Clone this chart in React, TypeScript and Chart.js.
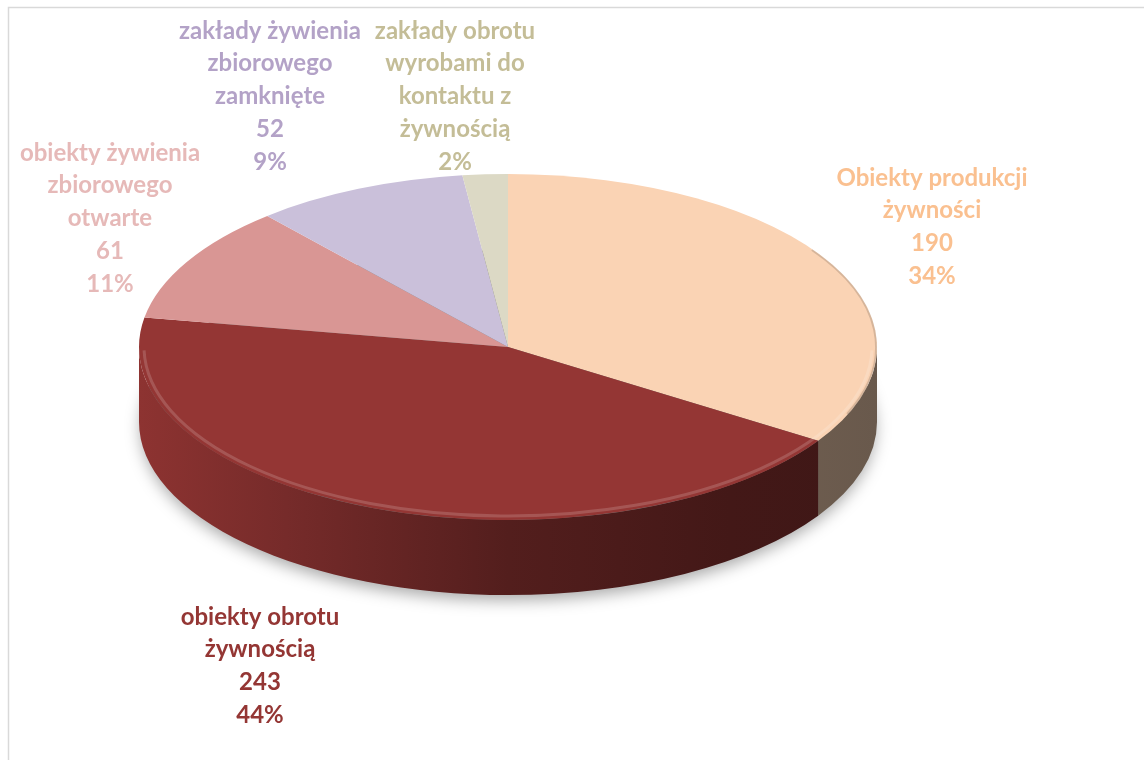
import React, { useEffect, useRef } from "react";
import { Chart, registerables } from "chart.js";

Chart.register(...registerables);

// ---------- data ----------
const categories: string[][] = [
  ["Obiekty produkcji", "żywności"],
  ["obiekty obrotu", "żywnością"],
  ["obiekty żywienia", "zbiorowego", "otwarte"],
  ["zakłady żywienia", "zbiorowego", "zamknięte"],
  ["zakłady obrotu", "wyrobami do", "kontaktu z", "żywnością"],
];
const values: number[] = [190, 243, 61, 52, 11];
// whether the value line is shown in each data label (the smallest one only shows %)
const showValue: boolean[] = [true, true, true, true, false];
const sliceColors: string[] = ["#FAD3B4", "#943634", "#D99694", "#CAC0DA", "#DCD9C5"];
const labelColors: string[] = ["#FAC090", "#943634", "#E6B9B8", "#B3A2C7", "#C4BD97"];

// ---------- layout (not data) ----------
const W = 1144;
const H = 760;
const TARGET_X = 508;
const TARGET_Y = 347;
const TILT = 173 / 369;
const DEPTH = 75;
const FONT = "bold 24px Lato, 'Open Sans', sans-serif";
const LINE_H = 32.7;
// centre x, centre y of first line, per label
const LABEL_POS: [number, number][] = [
  [932, 178],
  [260, 617],
  [110, 153],
  [270, 31],
  [455, 31],
];

function shade(hex: string, f: number): string {
  const n = parseInt(hex.slice(1), 16);
  const r = Math.round(((n >> 16) & 255) * f);
  const g = Math.round(((n >> 8) & 255) * f);
  const b = Math.round((n & 255) * f);
  return `rgb(${r},${g},${b})`;
}

const pie3d = {
  id: "pie3d",
  beforeDraw(chart: any) {
    const ctx = chart.ctx as CanvasRenderingContext2D;
    ctx.save();
    ctx.fillStyle = "#ffffff";
    ctx.fillRect(0, 0, W, H);
    ctx.strokeStyle = "#d9d9d9";
    ctx.lineWidth = 1.5;
    ctx.strokeRect(8.5, 7.5, W + 40, H + 40);
    ctx.restore();
  },
  beforeDatasetsDraw(chart: any) {
    const ctx = chart.ctx as CanvasRenderingContext2D;
    const meta = chart.getDatasetMeta(0);
    const arcs = meta.data as any[];
    if (!arcs.length) return;
    const cx = arcs[0].x;
    const cy = arcs[0].y;
    const R = arcs[0].outerRadius;
    const X = TARGET_X;
    const Y = TARGET_Y;
    const Ry = R * TILT;

    // soft shadow under the disc
    ctx.save();
    ctx.shadowColor = "rgba(0,0,0,0.35)";
    ctx.shadowBlur = 16;
    ctx.shadowOffsetY = 6;
    ctx.beginPath();
    ctx.ellipse(X, Y + DEPTH, R - 2, Ry - 1, 0, 0, Math.PI * 2);
    ctx.fillStyle = "#777";
    ctx.fill();
    ctx.restore();

    // visible side walls
    const TWO = Math.PI * 2;
    arcs.forEach((arc: any, i: number) => {
      const s = arc.startAngle;
      const e = arc.endAngle;
      for (const k of [-1, 0, 1]) {
        const lo = Math.max(s, k * TWO);
        const hi = Math.min(e, k * TWO + Math.PI);
        if (hi <= lo) continue;
        const base = sliceColors[i % sliceColors.length];
        const g = ctx.createLinearGradient(X - R, 0, X + R, 0);
        g.addColorStop(0, shade(base, 0.95));
        g.addColorStop(0.2, shade(base, 0.8));
        g.addColorStop(0.5, shade(base, 0.56));
        g.addColorStop(0.8, shade(base, 0.45));
        g.addColorStop(1, shade(base, 0.42));
        ctx.save();
        ctx.beginPath();
        ctx.ellipse(X, Y, R, Ry, 0, lo, hi, false);
        ctx.lineTo(X + R * Math.cos(hi), Y + DEPTH + Ry * Math.sin(hi));
        ctx.ellipse(X, Y + DEPTH, R, Ry, 0, hi, lo, true);
        ctx.closePath();
        ctx.fillStyle = g;
        ctx.fill();
        ctx.restore();
      }
    });

    // squash the library's own arcs into the tilted top face
    ctx.save();
    ctx.translate(X, Y);
    ctx.scale(1, TILT);
    ctx.translate(-cx, -cy);
  },
  afterDatasetsDraw(chart: any) {
    const ctx = chart.ctx as CanvasRenderingContext2D;
    ctx.restore();
    const meta = chart.getDatasetMeta(0);
    const arcs = meta.data as any[];
    if (!arcs.length) return;
    const R = arcs[0].outerRadius;
    const X = TARGET_X;
    const Y = TARGET_Y;
    const Ry = R * TILT;

    // bevel highlight on the front rim
    ctx.save();
    ctx.beginPath();
    ctx.ellipse(X, Y, R, Ry, 0, 0, Math.PI * 2);
    ctx.clip();
    ctx.beginPath();
    ctx.ellipse(X, Y, R - 5, Ry - 4, 0, 0.02, Math.PI - 0.02);
    ctx.strokeStyle = "rgba(255,255,255,0.16)";
    ctx.lineWidth = 3;
    ctx.stroke();
    ctx.beginPath();
    ctx.ellipse(X, Y, R - 0.5, Ry - 0.5, 0, -0.6, 0.4);
    ctx.strokeStyle = "rgba(0,0,0,0.14)";
    ctx.lineWidth = 3;
    ctx.stroke();
    ctx.restore();

    // data labels
    const total = values.reduce((a, b) => a + b, 0);
    ctx.save();
    ctx.font = FONT;
    ctx.textAlign = "center";
    ctx.textBaseline = "middle";
    categories.forEach((lines, i) => {
      const pct = Math.round((values[i] / total) * 100) + "%";
      const all = showValue[i] ? [...lines, String(values[i]), pct] : [...lines, pct];
      const [lx, ly] = LABEL_POS[i];
      ctx.fillStyle = labelColors[i];
      all.forEach((t, j) => ctx.fillText(t, lx, ly + j * LINE_H));
    });
    ctx.restore();
  },
};

export default function App() {
  const ref = useRef<HTMLCanvasElement | null>(null);
  useEffect(() => {
    document.body.style.margin = "0";
    const canvas = ref.current;
    if (!canvas) return;
    const chart = new Chart(canvas, {
      type: "pie",
      data: {
        labels: categories.map((c) => c.join(" ")),
        datasets: [
          {
            data: values,
            backgroundColor: sliceColors,
            borderWidth: 0,
          },
        ],
      },
      options: {
        responsive: false,
        animation: false,
        events: [],
        layout: { padding: { left: TARGET_X - 369, right: W - TARGET_X - 369, top: 11, bottom: 11 } },
        plugins: {
          legend: { display: false },
          tooltip: { enabled: false },
        },
      },
      plugins: [pie3d as any],
    });
    return () => chart.destroy();
  }, []);
  return (
    <canvas
      ref={ref}
      width={W}
      height={H}
      style={{ display: "block", width: W, height: H }}
    />
  );
}
